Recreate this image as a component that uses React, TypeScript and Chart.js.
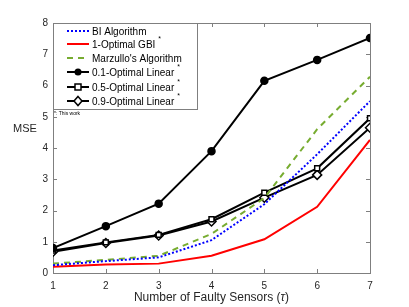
import React, { useEffect, useRef } from "react";
import { Chart, registerables } from "chart.js";

Chart.register(...registerables);

const sensors = [1, 2, 3, 4, 5, 6, 7];
const biAlgorithm = [0.25, 0.38, 0.5, 1.05, 2.2, 3.8, 5.5];
const optimalGBI = [0.2, 0.27, 0.3, 0.55, 1.08, 2.12, 4.26];
const marzullo = [0.3, 0.42, 0.55, 1.25, 2.4, 4.6, 6.28];
const linear01 = [0.8, 1.5, 2.22, 3.9, 6.15, 6.82, 7.52];
const linear05 = [0.72, 0.98, 1.22, 1.72, 2.57, 3.35, 4.95];
const linear09 = [0.68, 0.96, 1.2, 1.65, 2.41, 3.14, 4.65];
const yTicks = [0, 1, 2, 3, 4, 5, 6, 7, 8];
const xTicks = [1, 2, 3, 4, 5, 6, 7];

const FONT = "'Liberation Sans', Arial, Helvetica, sans-serif";
const AXIS_COLOR = "#7f7f7f";
const TEXT_COLOR = "#262626";

const pts = (ys: number[]) => sensors.map((x, i) => ({ x, y: ys[i] }));

const legendItems = [
  { label: "BI Algorithm", color: "#0000ff", dash: [2, 2], marker: "", star: false },
  { label: "1-Optimal GBI", color: "#ff0000", dash: [], marker: "", star: true },
  { label: "Marzullo's Algorithm", color: "#77ac30", dash: [6, 5], marker: "", star: false },
  { label: "0.1-Optimal Linear", color: "#000000", dash: [], marker: "circle", star: true },
  { label: "0.5-Optimal Linear", color: "#000000", dash: [], marker: "rect", star: true },
  { label: "0.9-Optimal Linear", color: "#000000", dash: [], marker: "rectRot", star: true },
];

const decorPlugin = {
  id: "decor",
  beforeDatasetsDraw(chart: any) {
    const { ctx, chartArea: a } = chart;
    ctx.save();
    ctx.strokeStyle = AXIS_COLOR;
    ctx.lineWidth = 1;
    ctx.strokeRect(Math.round(a.left) + 0.5, Math.round(a.top) + 0.5, Math.round(a.right - a.left), Math.round(a.bottom - a.top));
    const xs = chart.scales.x;
    const ys = chart.scales.y;
    ctx.beginPath();
    for (const t of xTicks) {
      const px = Math.round(xs.getPixelForValue(t)) + 0.5;
      ctx.moveTo(px, a.bottom);
      ctx.lineTo(px, a.bottom - 4);
      ctx.moveTo(px, a.top);
      ctx.lineTo(px, a.top + 4);
    }
    for (const t of yTicks) {
      const py = Math.round(ys.getPixelForValue(t)) + 0.5;
      ctx.moveTo(a.left, py);
      ctx.lineTo(a.left + 4, py);
      ctx.moveTo(a.right, py);
      ctx.lineTo(a.right - 4, py);
    }
    ctx.stroke();
    ctx.restore();
  },
  afterDraw(chart: any) {
    const { ctx, chartArea: a } = chart;
    ctx.save();
    ctx.fillStyle = TEXT_COLOR;
    ctx.font = `11px ${FONT}`;
    ctx.textBaseline = "middle";
    ctx.textAlign = "left";
    ctx.fillText("MSE", 13, 129);
    const main = "Number of Faulty Sensors (";
    ctx.font = `12px ${FONT}`;
    const w1 = ctx.measureText(main).width;
    ctx.font = `italic 12px ${FONT}`;
    const w2 = ctx.measureText("τ").width;
    ctx.font = `12px ${FONT}`;
    const w3 = ctx.measureText(")").width;
    const total = w1 + w2 + w3;
    const sx = (a.left + a.right) / 2 - total / 2;
    const ty = 298;
    ctx.fillText(main, sx, ty);
    ctx.font = `italic 12px ${FONT}`;
    ctx.fillText("τ", sx + w1, ty);
    ctx.font = `12px ${FONT}`;
    ctx.fillText(")", sx + w1 + w2, ty);

    const bx = Math.round(a.left) + 0.5;
    const by = Math.round(a.top) + 0.5;
    const bw = 144;
    const bh = 86;
    ctx.fillStyle = "#ffffff";
    ctx.fillRect(bx, by, bw, bh);
    ctx.strokeStyle = AXIS_COLOR;
    ctx.lineWidth = 1;
    ctx.strokeRect(bx, by, bw, bh);
    const rowY = [31, 44, 58, 72, 87, 101];
    legendItems.forEach((it, i) => {
      const y = rowY[i];
      ctx.save();
      ctx.strokeStyle = it.color;
      ctx.lineWidth = 2;
      ctx.setLineDash(it.dash);
      ctx.beginPath();
      ctx.moveTo(67, y);
      ctx.lineTo(89, y);
      ctx.stroke();
      ctx.setLineDash([]);
      if (it.marker) {
        const cx = 78;
        ctx.lineWidth = 1.5;
        ctx.strokeStyle = "#000";
        if (it.marker === "circle") {
          ctx.fillStyle = "#000";
          ctx.beginPath();
          ctx.arc(cx, y, 3.5, 0, Math.PI * 2);
          ctx.fill();
        } else if (it.marker === "rect") {
          ctx.fillStyle = "#fff";
          ctx.fillRect(cx - 3, y - 3, 6, 6);
          ctx.strokeRect(cx - 3, y - 3, 6, 6);
        } else {
          ctx.fillStyle = "#fff";
          ctx.beginPath();
          ctx.moveTo(cx, y - 4.5);
          ctx.lineTo(cx + 4, y);
          ctx.lineTo(cx, y + 4.5);
          ctx.lineTo(cx - 4, y);
          ctx.closePath();
          ctx.fill();
          ctx.stroke();
        }
      }
      ctx.restore();
      ctx.fillStyle = "#000";
      ctx.font = `10px ${FONT}`;
      ctx.textAlign = "left";
      ctx.textBaseline = "middle";
      ctx.fillText(it.label, 92, y + 1);
      if (it.star) {
        const lw = ctx.measureText(it.label).width;
        ctx.font = `7px ${FONT}`;
        ctx.fillText("*", 92 + lw + 3, y - 5);
      }
    });
    ctx.font = `5px ${FONT}`;
    ctx.fillStyle = "#000";
    ctx.textBaseline = "middle";
    ctx.fillText("*: This work", 54, 114);
    ctx.restore();
  },
};

export default function App() {
  const ref = useRef<HTMLCanvasElement>(null);
  useEffect(() => {
    document.body.style.margin = "0";
    const canvas = ref.current!;
    const mk = (label: string, data: number[], color: string, extra: any = {}) => ({
      label,
      data: pts(data),
      borderColor: color,
      backgroundColor: color,
      borderWidth: 2,
      pointRadius: 0,
      tension: 0,
      ...extra,
    });
    const chart = new Chart(canvas, {
      type: "line",
      data: {
        datasets: [
          mk("BI Algorithm", biAlgorithm, "#0000ff", { borderDash: [2, 2] }),
          mk("1-Optimal GBI", optimalGBI, "#ff0000"),
          mk("Marzullo's Algorithm", marzullo, "#77ac30", { borderDash: [6, 5] }),
          mk("0.1-Optimal Linear", linear01, "#000000", {
            pointRadius: 3.5,
            pointStyle: "circle",
            pointBackgroundColor: "#000",
            pointBorderColor: "#000",
            pointBorderWidth: 1.5,
          }),
          mk("0.5-Optimal Linear", linear05, "#000000", {
            pointRadius: 3.5,
            pointStyle: "rect",
            pointBackgroundColor: "#fff",
            pointBorderColor: "#000",
            pointBorderWidth: 1.5,
          }),
          mk("0.9-Optimal Linear", linear09, "#000000", {
            pointRadius: 4.5,
            pointStyle: "rectRot",
            pointBackgroundColor: "#fff",
            pointBorderColor: "#000",
            pointBorderWidth: 1.5,
          }),
        ],
      },
      options: {
        animation: false,
        responsive: false,
        maintainAspectRatio: false,
        layout: { padding: { left: 0, top: 23, right: 39, bottom: 0 } },
        plugins: { legend: { display: false }, tooltip: { enabled: false } },
        scales: {
          x: {
            type: "linear",
            min: 1,
            max: 7,
            afterFit: (s: any) => {
              s.height = 34;
            },
            afterBuildTicks: (s: any) => {
              s.ticks = xTicks.map((v) => ({ value: v }));
            },
            grid: { display: false, drawTicks: false, tickLength: 0 },
            border: { display: false },
            ticks: {
              padding: 7,
              color: TEXT_COLOR,
              font: { family: FONT, size: 10 },
              maxRotation: 0,
            },
          },
          y: {
            type: "linear",
            min: 0,
            max: 8,
            afterFit: (s: any) => {
              s.width = 53;
            },
            afterBuildTicks: (s: any) => {
              s.ticks = yTicks.map((v) => ({ value: v }));
            },
            grid: { display: false, drawTicks: false, tickLength: 0 },
            border: { display: false },
            ticks: {
              padding: 5,
              color: TEXT_COLOR,
              font: { family: FONT, size: 10 },
            },
          },
        },
      },
      plugins: [decorPlugin],
    });
    return () => chart.destroy();
  }, []);
  return (
    <div style={{ width: 409, height: 307, background: "#fff" }}>
      <canvas ref={ref} width={409} height={307} style={{ display: "block" }} />
    </div>
  );
}
